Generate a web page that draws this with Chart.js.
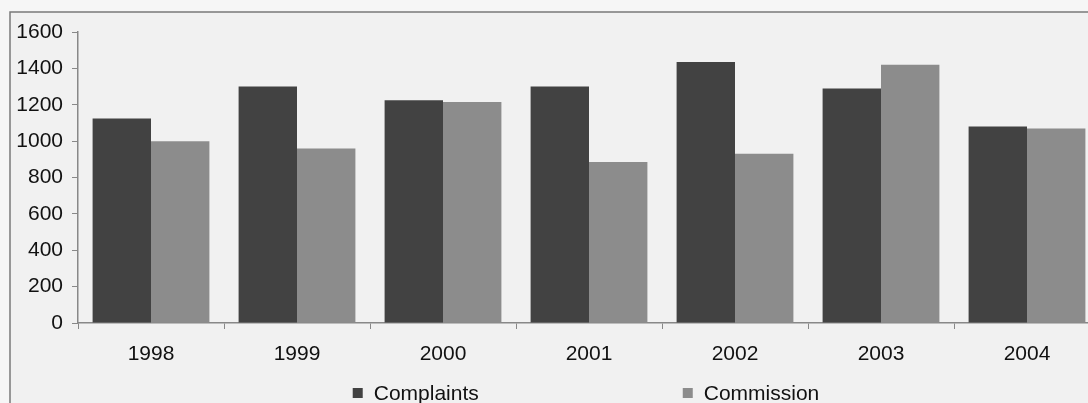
<!DOCTYPE html>
<html>
<head>
<meta charset="utf-8">
<script src="https://cdn.jsdelivr.net/npm/chart.js@4.4.1/dist/chart.umd.min.js"></script>
<style>
  html, body { margin: 0; padding: 0; background: #f6f6f6; overflow: hidden; }
  #wrap { position: relative; width: 1110px; height: 403px; }
</style>
</head>
<body>
<div id="wrap"><canvas id="chart" width="1110" height="403"></canvas></div>
<script>
// Yearly figures
const years = ["1998", "1999", "2000", "2001", "2002", "2003", "2004"];
const complaints = [1125, 1300, 1225, 1300, 1435, 1290, 1080];
const commission = [1000, 960, 1215, 885, 930, 1420, 1070];
const yTicks = [0, 200, 400, 600, 800, 1000, 1200, 1400, 1600];

const seriesLabels = ["Complaints", "Commission"];
const seriesColors = ["#424242", "#8c8c8c"];

Chart.defaults.font.family = "'Liberation Sans', Arial, sans-serif";
Chart.defaults.font.size = 21;
Chart.defaults.color = "#111";

// Light panel with a grey frame behind the plot
const framePlugin = {
  id: "frame",
  beforeDraw(chart) {
    const ctx = chart.ctx;
    ctx.save();
    ctx.fillStyle = "#f6f6f6";
    ctx.fillRect(0, 0, chart.width, chart.height);
    ctx.fillStyle = "#f1f1f1";
    ctx.fillRect(10, 12, chart.width, chart.height);
    ctx.strokeStyle = "#7a7a7a";
    ctx.lineWidth = 1.5;
    ctx.beginPath();
    ctx.moveTo(10, chart.height + 2);
    ctx.lineTo(10, 12);
    ctx.lineTo(chart.width + 2, 12);
    ctx.stroke();
    ctx.restore();
  },
};

// Wide-spaced legend along the bottom
const bottomLegend = {
  id: "bottomLegend",
  afterDraw(chart) {
    const ctx = chart.ctx;
    const area = chart.chartArea;
    const box = 10, gap = 11, spacing = 204;
    ctx.save();
    ctx.font = "21px 'Liberation Sans', Arial, sans-serif";
    const widths = seriesLabels.map((l) => ctx.measureText(l).width);
    const total = widths.reduce((a, w) => a + box + gap + w, 0) + spacing * (seriesLabels.length - 1);
    let x = (area.left + area.right) / 2 - 3 - total / 2;
    const y = 393;
    chart.data.datasets.forEach((ds, i) => {
      ctx.fillStyle = ds.backgroundColor;
      ctx.fillRect(x, y - box / 2, box, box);
      ctx.fillStyle = "#111";
      ctx.textBaseline = "middle";
      ctx.textAlign = "left";
      ctx.fillText(ds.label, x + box + gap, y + 1);
      x += box + gap + widths[i] + spacing;
    });
    ctx.restore();
  },
};

const ctx = document.getElementById("chart").getContext("2d");

new Chart(ctx, {
  type: "bar",
  data: {
    labels: years,
    datasets: [
      { label: seriesLabels[0], data: complaints, backgroundColor: seriesColors[0] },
      { label: seriesLabels[1], data: commission, backgroundColor: seriesColors[1] },
    ],
  },
  options: {
    responsive: false,
    animation: false,
    layout: { padding: { top: 32, right: 10, left: 0, bottom: 0 } },
    datasets: {
      bar: { categoryPercentage: 0.8, barPercentage: 1.0, borderWidth: 0 },
    },
    scales: {
      x: {
        grid: {
          offset: true,
          drawOnChartArea: false,
          drawTicks: true,
          tickLength: 6,
          color: "#888",
        },
        border: { display: true, color: "#888", width: 1.5 },
        ticks: { padding: 13, maxRotation: 0, minRotation: 0 },
        afterFit(scale) {
          scale.height = 80;
        },
      },
      y: {
        min: 0,
        max: 1600,
        afterBuildTicks(scale) {
          scale.ticks = yTicks.map((v) => ({ value: v }));
        },
        grid: {
          drawOnChartArea: false,
          drawTicks: true,
          tickLength: 6,
          color: "#888",
        },
        border: { display: true, color: "#888", width: 1.5 },
        ticks: {
          padding: 9,
          callback: (value) => String(value),
        },
        afterFit(scale) {
          scale.width = 78;
        },
      },
    },
    plugins: {
      legend: { display: false },
      tooltip: { enabled: false },
    },
  },
  plugins: [framePlugin, bottomLegend],
});
</script>
</body>
</html>
